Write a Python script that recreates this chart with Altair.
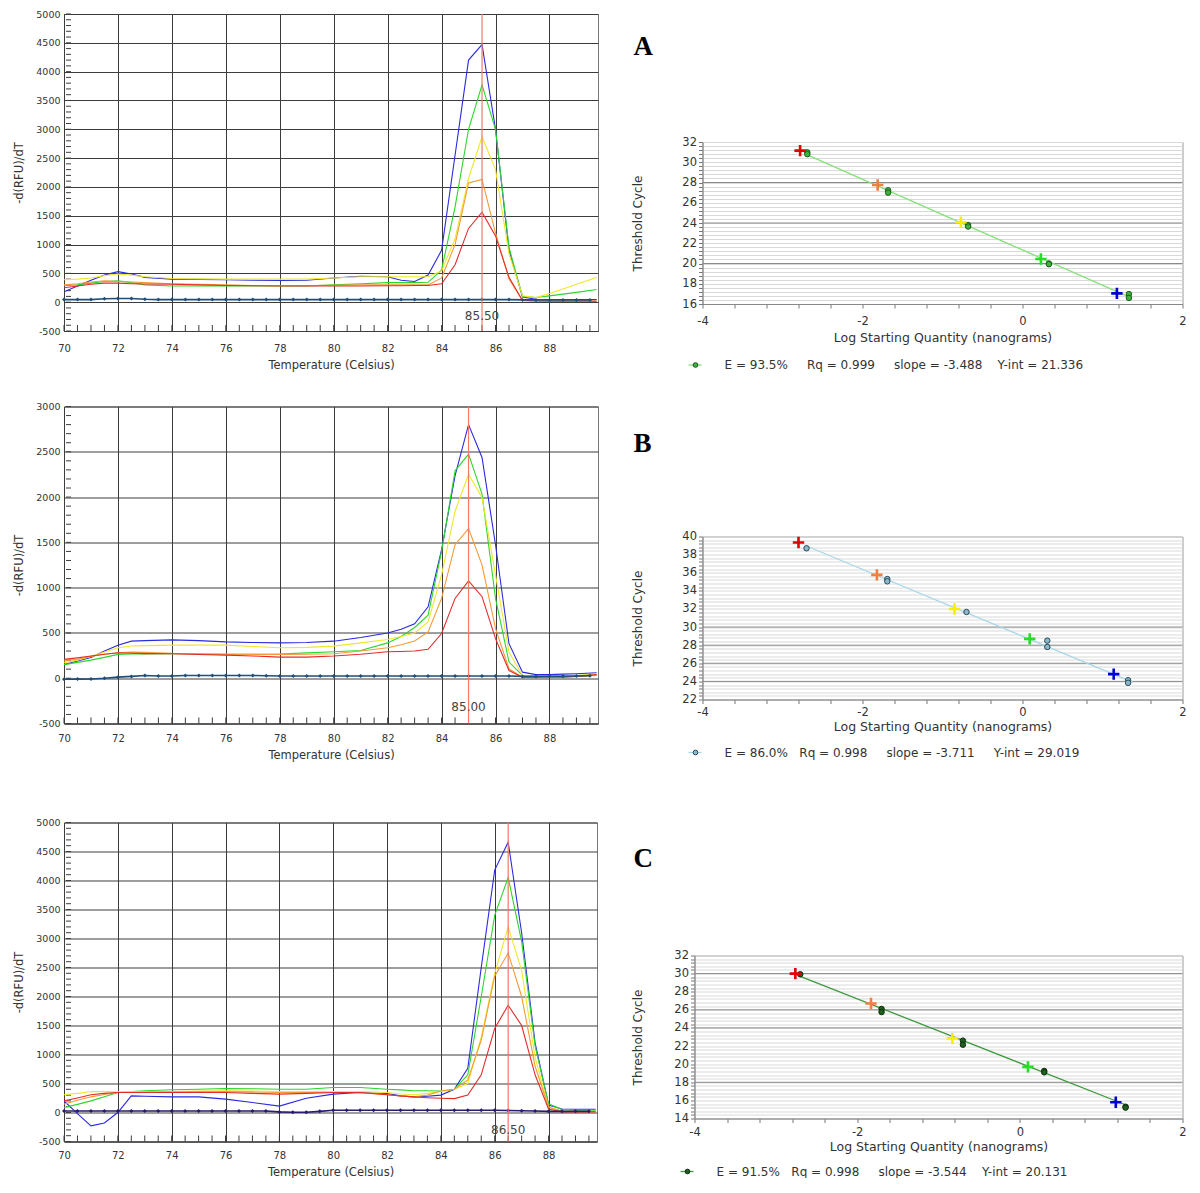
import altair as alt
import pandas as pd

FONT = "DejaVu Sans"
TXT = "#333333"

# ---------------- melt-curve data (temperature grid, -d(RFU)/dT) ----------------
T = [70, 70.5, 71, 71.5, 72, 72.5, 73, 74, 75, 76, 77, 78, 79, 80, 81, 82, 82.5, 83, 83.5,
     84, 84.5, 85, 85.5, 86, 86.5, 87, 87.5, 88, 88.5, 89, 89.75]

A_blue = [180, 280, 380, 470, 530, 490, 430, 400, 395, 390, 380, 375, 380, 420, 450, 440, 380, 360, 470,
          900, 2550, 4200, 4470, 3000, 900, 90, 50, 45, 45, 45, 45]
A_green = [290, 300, 330, 360, 370, 340, 300, 280, 280, 280, 280, 280, 280, 300, 320, 340, 340, 340, 345,
           560, 1650, 3000, 3770, 3000, 950, 100, 80, 110, 140, 170, 220]
A_yellow = [390, 400, 420, 460, 490, 470, 440, 410, 405, 400, 400, 400, 400, 420, 440, 440, 440, 440, 440,
            540, 1100, 2150, 2870, 2300, 840, 110, 80, 150, 230, 310, 430]
A_orange = [300, 320, 350, 370, 360, 350, 340, 320, 310, 300, 290, 290, 290, 295, 300, 300, 300, 300, 300,
            420, 1000, 2070, 2130, 1200, 400, 30, 20, 20, 20, 20, 20]
A_red = [250, 280, 310, 330, 330, 320, 315, 310, 300, 290, 285, 280, 280, 280, 280, 285, 285, 290, 290,
         320, 650, 1280, 1560, 1150, 430, 30, 20, 15, 15, 15, 15]

B_blue = [150, 190, 230, 300, 365, 409, 415, 423, 415, 401, 395, 390, 395, 409, 450, 500, 540, 600, 789,
          1419, 2237, 2800, 2437, 1474, 381, 67, 40, 40, 45, 50, 60]
B_green = [150, 175, 200, 230, 263, 268, 268, 270, 268, 265, 265, 268, 280, 292, 306, 390, 460, 560, 696,
           1400, 2290, 2475, 2033, 881, 178, 30, 25, 25, 25, 30, 40]
B_yellow = [170, 200, 240, 290, 336, 355, 360, 365, 365, 365, 350, 336, 340, 354, 390, 427, 460, 500, 622,
            1141, 1844, 2252, 1993, 1141, 289, 30, 25, 25, 25, 30, 40]
B_orange = [190, 210, 240, 265, 281, 288, 285, 274, 270, 263, 263, 263, 265, 270, 300, 336, 370, 410, 511,
            881, 1474, 1652, 1252, 548, 104, 11, 10, 15, 15, 20, 30]
B_red = [208, 225, 245, 265, 281, 275, 272, 270, 262, 255, 245, 233, 233, 245, 265, 292, 295, 300, 319,
         493, 881, 1074, 900, 437, 85, 11, 10, 10, 10, 20, 40]

C_blue = [200, -20, -230, -180, 0, 287, 280, 270, 270, 230, 172, 110, 247, 316, 345, 328, 287, 270, 280,
          300, 400, 760, 2500, 4180, 4660, 3100, 1200, 130, 60, 55, 55]
C_green = [86, 140, 200, 270, 345, 360, 374, 391, 400, 414, 410, 402, 400, 431, 430, 402, 390, 374, 374,
           370, 400, 650, 2000, 3400, 4050, 2950, 1150, 150, 50, 40, 40]
C_yellow = [305, 330, 362, 360, 356, 360, 362, 362, 368, 374, 370, 362, 362, 362, 360, 345, 320, 305, 330,
            362, 400, 500, 1300, 2400, 3200, 2450, 950, 100, 20, 15, 15]
C_orange = [144, 210, 270, 310, 345, 350, 352, 356, 360, 362, 355, 345, 345, 345, 340, 305, 285, 270, 300,
            370, 400, 560, 1250, 2350, 2750, 2000, 800, 90, 20, 15, 15]
C_red = [200, 250, 305, 330, 345, 345, 345, 345, 345, 345, 330, 316, 330, 345, 345, 305, 285, 270, 255,
         245, 240, 300, 650, 1450, 1850, 1500, 650, 60, 10, 10, 10]

# no-template control, read at every 0.5 degree
T_NTC = [70, 70.5, 71, 71.5, 72, 72.5, 73, 73.5, 74, 74.5, 75, 75.5, 76, 76.5, 77, 77.5, 78, 78.5, 79, 79.5,
         80, 80.5, 81, 81.5, 82, 82.5, 83, 83.5, 84, 84.5, 85, 85.5, 86, 86.5, 87, 87.5, 88, 88.5, 89, 89.5]
A_ntc = [45, 45, 45, 60, 65, 65, 50, 45, 45, 45, 45, 45, 45, 45, 45, 45, 45, 45, 45, 45,
         45, 45, 45, 45, 45, 45, 45, 45, 45, 45, 45, 45, 45, 45, 40, 40, 40, 40, 40, 40]
B_ntc = [-12, -10, -8, 0, 12, 20, 30, 25, 25, 30, 30, 30, 30, 30, 30, 28, 25, 25, 25, 25,
         25, 25, 25, 25, 25, 25, 25, 25, 25, 25, 25, 25, 25, 25, 20, 20, 22, 22, 25, 28]
C_ntc = [25, 25, 25, 25, 25, 25, 25, 25, 25, 25, 25, 25, 25, 25, 25, 25, 10, 5, 5, 20,
         40, 40, 40, 40, 40, 40, 40, 40, 40, 40, 40, 40, 40, 35, 30, 25, 20, 20, 20, 20]

PEAKS = [85.5, 85.0, 86.5]
PEAK_LABELS = ["85.50", "85.00", "86.50"]
PEAK_LABEL_Y = [-240, -320, -300]

SERIES = ["Std 1", "Std 2", "Std 3", "Std 4", "Std 5"]
MELT_COLORS = ["#2a2ae0", "#2cd62c", "#f2e62a", "#f59a36", "#e62a2a"]
NTC_COLOR = ["#1f4e79", "#1f4e79", "#2a1a70"]

# ---------------- standard-curve data ----------------
A_plus_x = [-2.78, -1.81, -0.77, 0.23, 1.18]
A_plus_y = [31.15, 27.76, 24.07, 20.45, 17.05]
A_pt_x = [-2.69, -2.69, -1.68, -1.68, -0.68, -0.68, 0.33, 0.33, 1.33, 1.33]
A_pt_y = [30.98, 30.8, 27.23, 27.0, 23.8, 23.65, 20.0, 19.93, 16.98, 16.6]
A_fit_x = [-2.69, 1.33]
A_fit_y = [30.72, 16.70]

B_plus_x = [-2.80, -1.82, -0.85, 0.09, 1.14]
B_plus_y = [39.34, 35.76, 32.0, 28.7, 24.8]
B_pt_x = [-2.70, -1.69, -1.69, -0.70, 0.31, 0.31, 1.32, 1.32]
B_pt_y = [38.7, 35.3, 35.05, 31.66, 28.5, 27.8, 24.13, 23.84]
B_fit_x = [-2.70, 1.38]
B_fit_y = [38.95, 23.9]

C_plus_x = [-2.76, -1.83, -0.83, 0.10, 1.18]
C_plus_y = [30.0, 26.7, 22.85, 19.7, 15.8]
C_pt_x = [-2.70, -1.70, -1.70, -0.70, -0.70, 0.30, 0.30, 1.30, 1.30]
C_pt_y = [29.93, 26.1, 25.75, 22.6, 22.15, 19.25, 19.1, 15.3, 15.2]
C_fit_x = [-2.70, 1.30]
C_fit_y = [29.70, 15.52]

NB = "\u00a0"
LEGENDS = [
    f"E = 93.5%{NB * 5}Rq = 0.999{NB * 5}slope = -3.488{NB * 4}Y-int = 21.336",
    f"E = 86.0%{NB * 3}Rq = 0.998{NB * 5}slope = -3.711{NB * 5}Y-int = 29.019",
    f"E = 91.5%{NB * 3}Rq = 0.998{NB * 5}slope = -3.544{NB * 4}Y-int = 20.131",
]
PLUS_COLORS = ["#e00000", "#f08040", "#f4f000", "#22e022", "#0000d0"]


def melt_panel(curves, ntc, ntc_color, peak, peak_label, peak_y, ydom, ystep, w, h,
               y_title_pad, x_lab_pad, x_title_pad):
    rows = []
    for name, col, vals in zip(SERIES, MELT_COLORS, curves):
        for t, v in zip(T, vals):
            rows.append({"T": t, "v": v, "s": name, "c": col})
    df = pd.DataFrame(rows)
    ntc_df = pd.DataFrame({"T": T_NTC, "v": ntc})
    yvals = list(range(ydom[0], ydom[1] + 1, ystep))
    xs = alt.Scale(domain=[70, 89.8], nice=False, zero=False)
    ys = alt.Scale(domain=ydom, nice=False, zero=False)
    xaxis = alt.Axis(values=list(range(70, 90, 2)), title="Temperature (Celsius)", grid=True,
                     gridColor="#3c3c3c", gridOpacity=1, ticks=False, labelFlush=False,
                     labelPadding=x_lab_pad, titlePadding=x_title_pad, domainColor="#3c3c3c",
                     labelFont=FONT, titleFont=FONT, labelFontSize=10, titleFontSize=11.5,
                     titleFontWeight="normal", labelColor=TXT, titleColor=TXT, labelOverlap=False)
    yaxis = alt.Axis(values=yvals, title="-d(RFU)/dT", grid=True, gridColor="#3c3c3c",
                     gridOpacity=1, ticks=False, labelPadding=4, titlePadding=y_title_pad,
                     labelExpr="'' + datum.value", domainColor="#3c3c3c", labelFont=FONT,
                     titleFont=FONT, labelFontSize=9.5, titleFontSize=11.5, titleFontWeight="normal",
                     labelColor=TXT, titleColor=TXT, labelOverlap=False, labelFlush=False)

    def X(f):
        return alt.X(f"{f}:Q", scale=xs, axis=xaxis)

    def Y(f):
        return alt.Y(f"{f}:Q", scale=ys, axis=yaxis)

    xt = pd.DataFrame({"T": T_NTC})
    yt = pd.DataFrame({"v": list(range(ydom[0], ydom[1] + 1, 100))})
    xticks = alt.Chart(xt).mark_rule(color="#3c3c3c", strokeWidth=1).encode(
        x=X("T"), y=alt.value(h), y2=alt.value(h - 6))
    yticks = alt.Chart(yt).mark_rule(color="#3c3c3c", strokeWidth=1).encode(
        y=Y("v"), x=alt.value(2), x2=alt.value(7))
    lines = alt.Chart(df).mark_line(strokeWidth=1.1, clip=True).encode(
        x=X("T"), y=Y("v"),
        color=alt.Color("c:N", scale=None, legend=None),
        detail="s:N",
        order=alt.Order("T:Q"))
    ntc_line = alt.Chart(ntc_df).mark_line(
        color=ntc_color, strokeWidth=1.6,
        point=alt.OverlayMarkDef(shape="diamond", size=16, filled=True, color=ntc_color)).encode(
        x=X("T"), y=Y("v"))
    pk = pd.DataFrame({"T": [peak], "v": [peak_y], "l": [peak_label]})
    peak_rule = alt.Chart(pk).mark_rule(color="#f07a68", strokeWidth=1.2).encode(x=X("T"))
    peak_text = alt.Chart(pk).mark_text(font=FONT, fontSize=12, color="#444444").encode(
        x=X("T"), y=Y("v"), text="l:N")
    return alt.layer(xticks, yticks, lines, ntc_line, peak_rule, peak_text).properties(
        width=w, height=h, view=alt.ViewBackground(stroke="#777777"))


def std_panel(plus_x, plus_y, pt_x, pt_y, fit_x, fit_y, ydom, major, line_color, pt_fill,
              pt_stroke, legend, w, h, leg_y, y_title_pad, x_lab_pad, x_title_pad):
    xs = alt.Scale(domain=[-4, 2], nice=False, zero=False)
    ys = alt.Scale(domain=ydom, nice=False, zero=False)
    xt = [round(-4 + 0.4 * i, 1) for i in range(16)]
    n_y = round((ydom[1] - ydom[0]) / 0.4)
    yt = [round(ydom[0] + 0.4 * i, 1) for i in range(n_y + 1)]
    lab = "datum.value % 2 == 0 ? '' + datum.value : ''"
    xaxis = alt.Axis(values=xt, labelExpr=lab, title="Log Starting Quantity (nanograms)",
                     grid=False, tickSize=4, tickColor="#777777", domainColor="#888888",
                     labelOverlap=False, labelFlush=False, labelPadding=x_lab_pad,
                     titlePadding=x_title_pad, labelFont=FONT, titleFont=FONT, labelFontSize=11.5,
                     titleFontSize=12.5, titleFontWeight="normal", labelColor=TXT, titleColor=TXT)
    yaxis = alt.Axis(values=yt, labelExpr=lab, title="Threshold Cycle", grid=True,
                     gridColor="#d9d9d9", gridOpacity=1, tickSize=4, tickColor="#777777",
                     domainColor="#888888", labelOverlap=False, labelFlush=False, labelPadding=2,
                     titlePadding=y_title_pad, labelFont=FONT, titleFont=FONT, labelFontSize=11.5,
                     titleFontSize=12, titleFontWeight="normal", labelColor=TXT, titleColor=TXT)

    def X(f):
        return alt.X(f"{f}:Q", scale=xs, axis=xaxis)

    def Y(f):
        return alt.Y(f"{f}:Q", scale=ys, axis=yaxis)

    major_rules = alt.Chart(pd.DataFrame({"m": major})).mark_rule(
        color="#8a8a8a", strokeWidth=1).encode(y=Y("m"))
    fit = alt.Chart(pd.DataFrame({"x": fit_x, "y": fit_y})).mark_line(
        color=line_color, strokeWidth=1.3).encode(x=X("x"), y=Y("y"))
    pts = alt.Chart(pd.DataFrame({"x": pt_x, "y": pt_y})).mark_circle(
        size=30, color=pt_fill, stroke=pt_stroke, strokeWidth=1, opacity=1).encode(
        x=X("x"), y=Y("y"))
    plus = alt.Chart(pd.DataFrame({"x": plus_x, "y": plus_y, "c": PLUS_COLORS})).mark_point(
        shape="M-1,0L1,0M0,-1L0,1", filled=False, size=130, strokeWidth=2.6, opacity=1).encode(
        x=X("x"), y=Y("y"), color=alt.Color("c:N", scale=None, legend=None))
    one = pd.DataFrame({"k": [0]})
    leg_line = alt.Chart(one).mark_rule(color=line_color, strokeWidth=1.3).encode(
        x=alt.value(-14), x2=alt.value(-1), y=alt.value(leg_y))
    leg_dot = alt.Chart(one).mark_circle(size=22, color=pt_fill, stroke=pt_stroke, strokeWidth=1,
                                          opacity=1).encode(x=alt.value(-7), y=alt.value(leg_y))
    leg_text = alt.Chart(one).mark_text(align="left", baseline="middle", font=FONT, fontSize=12,
                                        color=TXT).encode(
        x=alt.value(22), y=alt.value(leg_y), text=alt.value(legend))
    return alt.layer(major_rules, fit, pts, plus, leg_line, leg_dot, leg_text).properties(
        width=w, height=h, view=alt.ViewBackground(stroke="#999999"))


def letter_chart(letter, h, tx, ty):
    return alt.Chart(pd.DataFrame({"l": [letter]})).mark_text(
        font="Liberation Serif", fontSize=27, fontWeight="bold", align="left",
        baseline="middle", color="black").encode(
        x=alt.value(tx), y=alt.value(ty), text="l:N").properties(
        width=30, height=h, view=alt.ViewBackground(stroke="transparent"))


melt_A = melt_panel([A_blue, A_green, A_yellow, A_orange, A_red], A_ntc, NTC_COLOR[0],
                    PEAKS[0], PEAK_LABELS[0], PEAK_LABEL_Y[0], [-500, 5000], 500,
                    534, 317, 11.5, 12, 6)
melt_B = melt_panel([B_blue, B_green, B_yellow, B_orange, B_red], B_ntc, NTC_COLOR[1],
                    PEAKS[1], PEAK_LABELS[1], PEAK_LABEL_Y[1], [-500, 3000], 500,
                    534, 317, 11.5, 10, 5.5)
melt_C = melt_panel([C_blue, C_green, C_yellow, C_orange, C_red], C_ntc, NTC_COLOR[2],
                    PEAKS[2], PEAK_LABELS[2], PEAK_LABEL_Y[2], [-500, 5000], 500,
                    533, 319, 11.5, 9, 5.5)

std_A = std_panel(A_plus_x, A_plus_y, A_pt_x, A_pt_y, A_fit_x, A_fit_y, [16, 32], [20, 24, 28],
                  "#86e07a", "#3cb43c", "#1e5a1e", LEGENDS[0], 480, 162, 223, 37, 7, 5)
std_B = std_panel(B_plus_x, B_plus_y, B_pt_x, B_pt_y, B_fit_x, B_fit_y, [22, 40], [24, 26, 28, 30],
                  "#a8d8e8", "#8cb8cc", "#2a4a5a", LEGENDS[1], 480, 163, 216, 37, 3, 2)
std_C = std_panel(C_plus_x, C_plus_y, C_pt_x, C_pt_y, C_fit_x, C_fit_y, [14, 32], [18, 24, 26, 30],
                  "#3c9a3c", "#1e5e1e", "#0e2e0e", LEGENDS[2], 488, 163, 216, 29, 4, 2.5)

row1 = alt.hconcat(melt_A, alt.vconcat(letter_chart("A", 120.5, -69, 33), std_A, spacing=0),
                   spacing=31.5)
row2 = alt.hconcat(melt_B, alt.vconcat(letter_chart("B", 122.5, -69, 37), std_B, spacing=0),
                   spacing=31.5)
row3 = alt.hconcat(melt_C, alt.vconcat(letter_chart("C", 125.5, -61, 36), std_C, spacing=0),
                   spacing=32.5)

top = alt.vconcat(row1, row2, spacing=28.5)
chart = alt.vconcat(top, row3, spacing=55.5).properties(
    padding={"left": 4, "top": 0, "right": 0, "bottom": 0}
).configure(background="white").configure_view(stroke="#888888")

chart.save("out.html", embed_options={"renderer": "svg", "actions": False})
